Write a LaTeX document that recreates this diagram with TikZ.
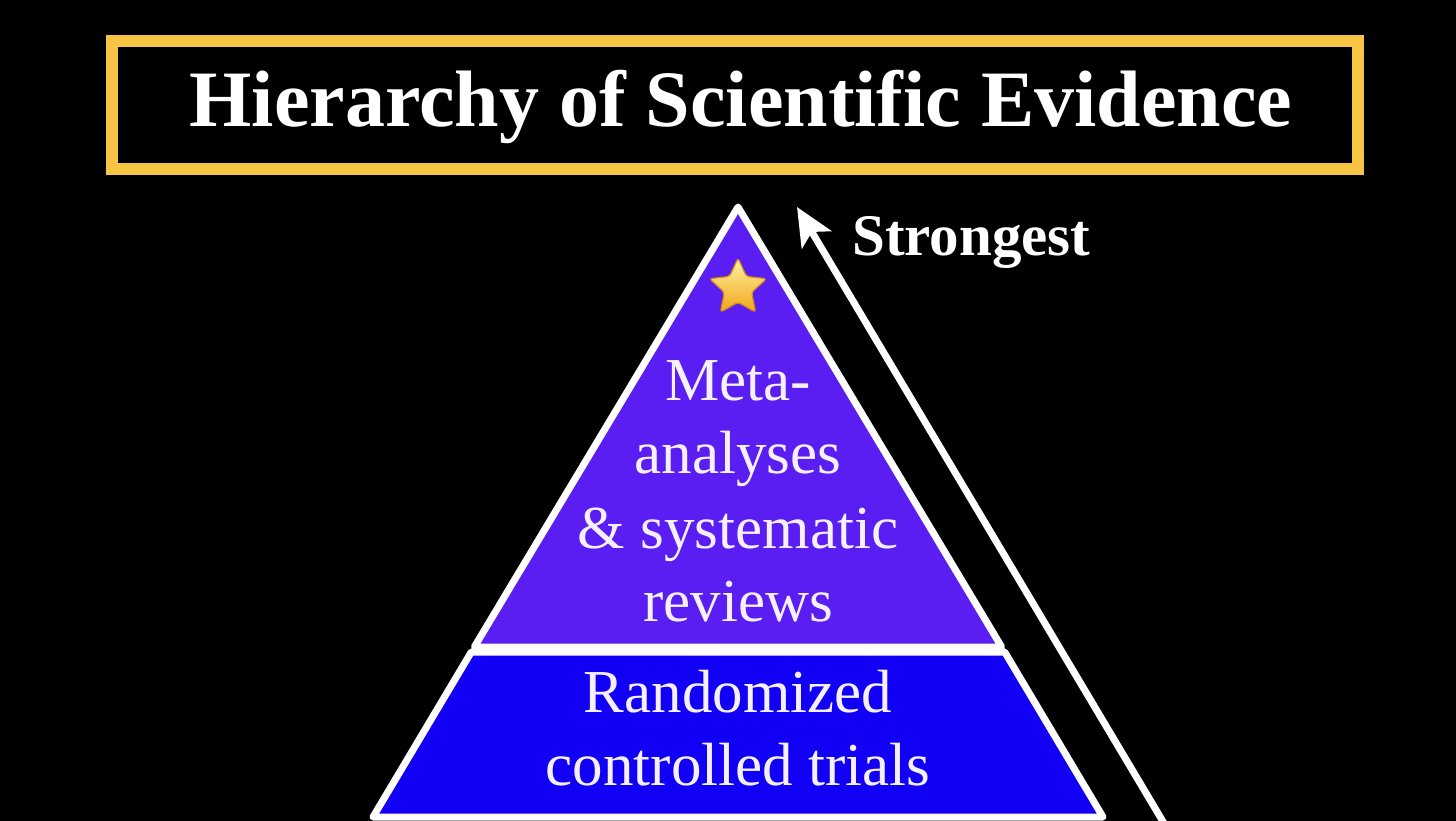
\documentclass[tikz,border=0pt]{standalone}
\usepackage{fontspec}
\setmainfont{Liberation Serif}
\usetikzlibrary{arrows.meta,shapes.geometric}
\definecolor{framegold}{HTML}{F7C444}
\definecolor{toppurple}{HTML}{5A1EF2}
\definecolor{lowblue}{HTML}{1200F5}
\definecolor{softwhite}{HTML}{F4F0FF}
\definecolor{starlight}{HTML}{FFF3A8}
\definecolor{stardark}{HTML}{F2A516}
\definecolor{staredge}{HTML}{D98A10}
\tikzset{
  section/.style={draw=white, line width=7pt, line join=round},
  tiertext/.style={anchor=base, text=softwhite, inner sep=0pt, font=\fontsize{61}{74}\selectfont},
  titletext/.style={anchor=base, text=white, inner sep=0pt, font=\bfseries\fontsize{80}{96}\selectfont},
  sidetext/.style={anchor=base west, text=white, inner sep=0pt, font=\bfseries\fontsize{59}{70}\selectfont},
  uparrow/.style={draw=white, line width=7pt, -{Stealth[length=38pt,width=34pt,inset=9pt]}}
}
\begin{document}
\begin{tikzpicture}[x=1pt,y=-1pt]
\useasboundingbox (0,0) rectangle (1456,821);
\clip (0,0) rectangle (1456,821);
\fill[black] (0,0) rectangle (1456,821);
% title frame
\draw[framegold, line width=12pt] (112,41) rectangle (1358,169);
\node[titletext] (title) at (741,127) {Hierarchy of Scientific Evidence};
% pyramid sections
\draw[section, fill=toppurple] (738,207) -- (1001.7,647) -- (474.3,647) -- cycle;
\draw[section, fill=lowblue] (471.3,652) -- (1004.7,652) -- (1103,817) -- (373,817) -- cycle;
% star
\node[star, star points=5, star point ratio=2.1, minimum size=60pt, inner sep=0pt,
      rounded corners=3pt, draw=staredge, line width=1.2pt,
      top color=starlight, bottom color=stardark] (star) at (738,288) {};
% tier texts
\node[tiertext] (meta1) at (738,400) {Meta-};
\node[tiertext] (meta2) at (738,473) {analyses};
\node[tiertext] (meta3) at (738,548) {\& systematic};
\node[tiertext] (meta4) at (738,621) {reviews};
\node[tiertext] (rct1) at (738,712) {Randomized};
\node[tiertext] (rct2) at (738,785) {controlled trials};
% strongest arrow
\coordinate (arrowfoot) at (1168,830);
\coordinate (arrowtip) at (797,207);
\draw[uparrow] (arrowfoot) -- (arrowtip);
\node[sidetext] (strong) at (852,255) {Strongest};
\end{tikzpicture}
\end{document}
